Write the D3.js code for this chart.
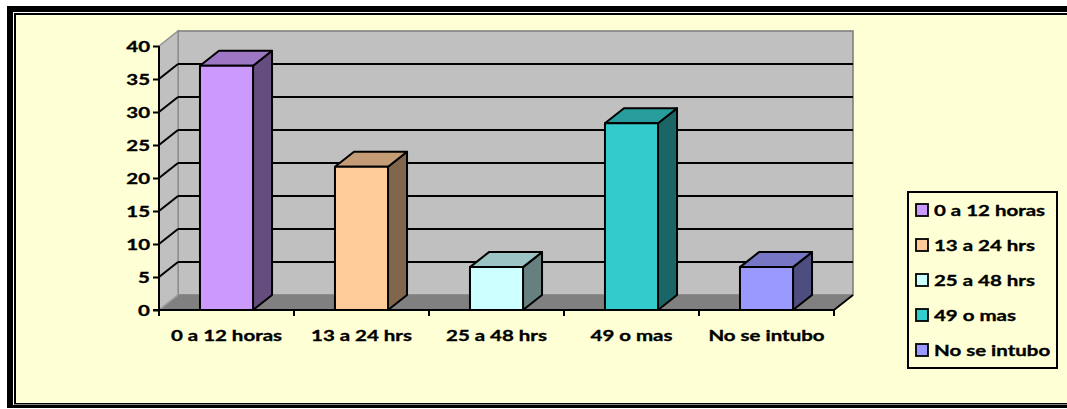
<!DOCTYPE html>
<html>
<head>
<meta charset="utf-8">
<script src="https://cdn.jsdelivr.net/npm/d3@7"></script>
<style>
  html, body { margin: 0; padding: 0; background: #ffffff; }
  svg { display: block; }
  text { font-family: Lato, "Open Sans", sans-serif; font-weight: bold; fill: #000; stroke: #000; stroke-width: 0.35px; }
</style>
</head>
<body>
<svg id="chart" width="1067" height="409"></svg>
<script>
// Tiempo hasta la intubación (porcentaje de pacientes)
const categories = ["0 a 12 horas", "13 a 24 hrs", "25 a 48 hrs", "49 o mas", "No se intubo"];
const values = [37.0, 21.7, 6.5, 28.3, 6.5];
const colors = ["#CC99FF", "#FFCC99", "#CCFFFF", "#33CCCC", "#9999FF"];
const yTicks = [0, 5, 10, 15, 20, 25, 30, 35, 40];

const W = 1067, H = 409;
const FONT = 16, WIDEN = 1.28; // wide bold labels
const svg = d3.select("#chart");

// Double border frame and pale yellow chart area
svg.append("rect").attr("x", 7).attr("y", 6).attr("width", W + 20).attr("height", 402).attr("fill", "#000");
svg.append("rect").attr("x", 13).attr("y", 12).attr("width", W + 20).attr("height", 393).attr("fill", "#fff");
svg.append("rect").attr("x", 14).attr("y", 13).attr("width", W + 20).attr("height", 391.5).attr("fill", "#000");
svg.append("rect").attr("x", 16).attr("y", 15).attr("width", W + 20).attr("height", 388).attr("fill", "#FFFFD5");

// Scales for the front plane of the 3D box
const x = d3.scaleBand().domain(categories).range([159, 834]).paddingInner(0.607).paddingOuter(0.3035);
const y = d3.scaleLinear().domain([0, 40]).range([310, 46]);
const dx = 19, dy = -15; // depth offset of the back plane

const x0 = x.range()[0], x1 = x.range()[1];
const line = d3.line();

// Back wall
svg.append("rect")
  .attr("x", x0 + dx).attr("y", y(40) + dy)
  .attr("width", x1 - x0).attr("height", y(0) - y(40))
  .attr("fill", "#C0C0C0").attr("stroke", "#808080").attr("stroke-width", 1.6);

// Side wall
svg.append("path")
  .attr("d", line([[x0, y(40)], [x0 + dx, y(40) + dy], [x0 + dx, y(0) + dy], [x0, y(0)]]) + "Z")
  .attr("fill", "#C0C0C0").attr("stroke", "#909090").attr("stroke-width", 1.4);

// Floor
svg.append("path")
  .attr("d", line([[x0, y(0)], [x1, y(0)], [x1 + dx, y(0) + dy], [x0 + dx, y(0) + dy]]) + "Z")
  .attr("fill", "#808080");
svg.append("path")
  .attr("d", line([[x0, y(0)], [x0 + dx, y(0) + dy]]))
  .attr("stroke", "#A0A0A0").attr("stroke-width", 1.4);
svg.append("path")
  .attr("d", line([[x1, y(0)], [x1 + dx, y(0) + dy]]))
  .attr("stroke", "#000").attr("stroke-width", 1.8);

// Gridlines on back and side walls
const gridVals = yTicks.filter(v => v > 0 && v < 40);
const grid = svg.append("g").attr("stroke", "#000").attr("stroke-width", 2).attr("fill", "none");
gridVals.forEach(v => {
  grid.append("path").attr("d", line([[x0 + dx, y(v) + dy], [x1 + dx, y(v) + dy]]));
  grid.append("path").attr("d", line([[x0, y(v)], [x0 + dx, y(v) + dy]]));
});

// Shading for the 3D faces
function shade(c, k) {
  const r = d3.rgb(c);
  return d3.rgb(r.r * k, r.g * k, r.b * k).formatHex();
}

// Bars
const bars = svg.append("g").attr("stroke", "#000").attr("stroke-width", 2).attr("stroke-linejoin", "round");
categories.forEach((c, i) => {
  const bx = x(c), bw = x.bandwidth();
  const top = y(values[i]), base = y(0);
  const g = bars.append("g");
  g.append("path")
    .attr("d", line([[bx + bw, top], [bx + bw + dx, top + dy], [bx + bw + dx, base + dy], [bx + bw, base]]) + "Z")
    .attr("fill", shade(colors[i], 0.5));
  g.append("path")
    .attr("d", line([[bx, top], [bx + dx, top + dy], [bx + bw + dx, top + dy], [bx + bw, top]]) + "Z")
    .attr("fill", shade(colors[i], 0.77));
  g.append("rect")
    .attr("x", bx).attr("y", top).attr("width", bw).attr("height", base - top)
    .attr("fill", colors[i]);
});

// Places a widened label with its anchor at (tx, ty)
function label(parent, tx, ty, str, anchor) {
  return parent.append("text")
    .attr("transform", `translate(${tx},${ty}) scale(${WIDEN},1)`)
    .attr("text-anchor", anchor)
    .attr("dy", "0.36em")
    .attr("font-size", FONT)
    .text(str);
}

// Y axis
const yAxis = svg.append("g").attr("transform", `translate(${x0},0)`)
  .call(d3.axisLeft(y).tickValues(yTicks).tickSize(6).tickFormat(""));
yAxis.select(".domain").attr("stroke", "#000").attr("stroke-width", 2).attr("d", `M0,${y(40)}V${y(0)}`);
yAxis.selectAll(".tick line").attr("stroke", "#000").attr("stroke-width", 2);
yTicks.forEach(v => label(svg, x0 - 9, y(v), d3.format("d")(v), "end"));

// X axis
const boundaries = d3.range(categories.length + 1).map(i => x0 + i * x.step());
const xAxis = svg.append("g");
xAxis.append("path").attr("d", line([[x0 - 6, y(0)], [x1, y(0)]])).attr("stroke", "#000").attr("stroke-width", 2);
xAxis.selectAll(".xt").data(boundaries).join("path")
  .attr("d", b => line([[b, y(0)], [b, y(0) + 6]])).attr("stroke", "#000").attr("stroke-width", 2);
categories.forEach(c => label(xAxis, x(c) + x.bandwidth() / 2, y(0) + 25, c, "middle"));

// Legend
const legend = svg.append("g");
legend.append("rect").attr("x", 908).attr("y", 192).attr("width", 149).attr("height", 176)
  .attr("fill", "#FFFFD5").attr("stroke", "#000").attr("stroke-width", 2);
categories.forEach((c, i) => {
  const cy = 210 + i * 35;
  legend.append("rect").attr("x", 916).attr("y", cy - 6).attr("width", 12).attr("height", 12)
    .attr("fill", colors[i]).attr("stroke", "#000").attr("stroke-width", 1.8);
  label(legend, 934, cy, c, "start");
});
</script>
</body>
</html>
